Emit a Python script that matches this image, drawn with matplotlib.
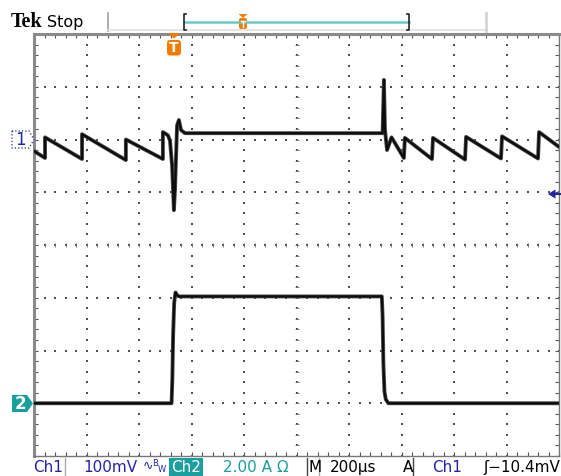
import numpy as np
import matplotlib.pyplot as plt
from matplotlib.patches import Polygon, FancyBboxPatch, Rectangle

# Ch1: 100 mV/div, ground 2 div above centre; Ch2: 2.00 A/div, ground 3 div below centre
# horizontal: 200 us/div, 10 divisions -> 0..2000 us
ch1_t = [0, 42, 42, 183, 183, 350, 350, 491, 491, 510, 518, 526, 533, 537, 545, 552, 560, 575,
         1328, 1333, 1337, 1345, 1362, 1409, 1413, 1516, 1520, 1642, 1646, 1779, 1783, 1920, 1924, 2000]
ch1_mv = [-22, -35, 4, -37, 10, -39, 0, -37, 14, 8, -2, -49, -134, -96, 27, 37, 18, 12,
          12, 113, 18, -20, 4, -35, 3, -37, 3, -38, 5, -36, 6, -36, 14, -14]

ch2_t = [0, 524, 527, 530, 534, 539, 545, 552, 1325, 1328, 1331, 1335, 1340, 1350, 2000]
ch2_a = [0, 0, 0.9, 2.6, 3.8, 4.2, 4.1, 4.05, 4.05, 3.3, 1.5, 0.45, 0.15, 0, 0]

ch1_scale, ch1_pos = 100.0, 2.0
ch2_scale, ch2_pos = 2.0, -3.0

BLUE = '#2323a8'
TEAL = '#1a9f9f'
ORANGE = '#f27b00'

fig = plt.figure(figsize=(5.61, 4.76), dpi=100)

ax = fig.add_axes([34 / 561, 20 / 476, 525 / 561, 422 / 476])
ax.set_xlim(0, 2000)
ax.set_ylim(-4, 4)
ax.set_xticks(np.arange(0, 2001, 200))
ax.set_xticks(np.arange(0, 2001, 40), minor=True)
ax.set_yticks(np.arange(-4, 5, 1))
ax.set_yticks(np.arange(-4, 4.01, 0.2), minor=True)
ax.tick_params(which='both', direction='in', top=True, right=True, length=3, width=0.8,
               color='#555555', labelbottom=False, labelleft=False)
for side in ['left', 'top']:
    ax.spines[side].set_linewidth(2.2)
    ax.spines[side].set_color('#8a8a8a')
for side in ['right', 'bottom']:
    ax.spines[side].set_linewidth(1.0)
    ax.spines[side].set_color('#777777')

# dotted graticule
gx, gy = [], []
for k in range(1, 10):
    ys = np.arange(-4, 4.01, 0.2)
    gx += [k * 200] * len(ys)
    gy += list(ys)
for k in range(-3, 4):
    xs = np.arange(0, 2001, 40)
    gx += list(xs)
    gy += [k] * len(xs)
ax.scatter(gx, gy, s=1.0, marker='s', color='#505050', linewidths=0, zorder=1)
# centre-line minor ticks
cx = np.arange(0, 2001, 40)
ax.scatter(cx, np.zeros_like(cx), s=5, marker='|', color='#707070', linewidths=0.6, zorder=1)
cy = np.arange(-4, 4.01, 0.2)
ax.scatter(np.full_like(cy, 1000), cy, s=5, marker='_', color='#707070', linewidths=0.6, zorder=1)

y1 = np.array(ch1_mv) / ch1_scale + ch1_pos
y2 = np.array(ch2_a) / ch2_scale + ch2_pos
for t, y in [(ch1_t, y1), (ch2_t, y2)]:
    ax.plot(t, y, color='#4a4a4a', lw=2.8, solid_joinstyle='round', zorder=3)
    ax.plot(t, y, color='#0d0d0d', lw=1.6, solid_joinstyle='round', zorder=4)

# overlay in pixel coordinates
ov = fig.add_axes([0, 0, 1, 1], zorder=5)
ov.set_xlim(0, 561)
ov.set_ylim(476, 0)
ov.axis('off')

# top status bar
ov.text(11, 27, 'Tek', fontfamily='Liberation Serif', fontweight='bold', fontsize=14.5, va='baseline')
ov.text(47, 27, 'Stop', fontfamily='DejaVu Sans', fontsize=11.5, va='baseline')
ov.plot([108, 108], [13, 31], color='#a0a0a0', lw=1.2)
ov.plot([108, 486], [30, 30], color='#e0e0e0', lw=1.2)
ov.plot([486, 486], [13, 31], color='#d5d5d5', lw=2)
ov.plot([185, 409], [22, 22], color='#6cc6c6', lw=1.8)
ov.plot([186.5, 184, 184, 186.5], [14, 14, 30, 30], color='#222222', lw=1.2)
ov.plot([407, 409.5, 409.5, 407], [14, 14, 30, 30], color='#222222', lw=1.2)
ov.add_patch(Polygon([(238.5, 14), (247.5, 14), (243, 18)], closed=True, fc=ORANGE, ec='none'))
ov.add_patch(FancyBboxPatch((239, 18), 8, 11, boxstyle='round,pad=0,rounding_size=2',
                            fc=ORANGE, ec='none'))
ov.plot([241, 245], [20.5, 20.5], color='white', lw=1)
ov.plot([243, 243], [20.5, 27], color='white', lw=1)

# trigger position marker
ov.add_patch(Polygon([(167.5, 33), (180.5, 33), (174, 38.5)], closed=True, fc=ORANGE, ec='none'))
ov.add_patch(FancyBboxPatch((167, 40), 14, 15.5, boxstyle='round,pad=0,rounding_size=3',
                            fc=ORANGE, ec='none'))
ov.text(174, 48, 'T', color='white', fontsize=10, fontweight='bold', ha='center', va='center')

# channel markers
ov.add_patch(Polygon([(12, 131), (29, 131), (34, 139.5), (29, 148), (12, 148)], closed=True,
                     fc='white', ec=BLUE, lw=0.9, ls=':'))
ov.text(20.5, 140, '1', color=BLUE, fontsize=12, ha='center', va='center')
ov.add_patch(Polygon([(12, 395), (27, 395), (33, 403.5), (27, 412), (12, 412)], closed=True,
                     fc=TEAL, ec='none'))
ov.text(20, 404, '2', color='white', fontsize=12, fontweight='bold', ha='center', va='center')

# trigger level arrow
ov.add_patch(Polygon([(548, 194), (555.5, 189.5), (555.5, 198.5)], closed=True, fc=BLUE, ec='none'))
ov.plot([554, 561], [194, 194], color=BLUE, lw=1.5)

# bottom status bar
fs = 11
ov.text(33, 472, 'Ch1', color=BLUE, fontsize=fs, va='baseline')
ov.plot([65.5, 65.5], [458, 476], color='#aaaaaa', lw=1)
ov.text(83, 472, '100mV', color=BLUE, fontsize=fs, va='baseline')
ov.text(143, 470, '\u223f', color=BLUE, fontsize=9, va='baseline')
ov.text(152.5, 466, 'B', color=BLUE, fontsize=6, va='baseline')
ov.text(157.5, 472, 'W', color=BLUE, fontsize=6, va='baseline')
ov.add_patch(Rectangle((169.5, 457.5), 34, 18.5, fc=TEAL, ec='none'))
ov.text(171.5, 472, 'Ch2', color='white', fontsize=fs, va='baseline')
ov.text(223, 472, '2.00 A \u03a9', color=TEAL, fontsize=fs, va='baseline')
ov.plot([307.5, 307.5], [458, 476], color='#444444', lw=1)
ov.plot([319, 319], [458, 476], color='#aaaaaa', lw=1)
ov.text(309, 472, 'M', color='black', fontsize=fs, va='baseline')
ov.text(330, 472, '200\u00b5s', color='black', fontsize=fs, va='baseline')
ov.text(403, 472, 'A', color='black', fontsize=fs, va='baseline')
ov.plot([413.5, 413.5], [458, 476], color='#444444', lw=1)
ov.text(432, 472, 'Ch1', color=BLUE, fontsize=fs, va='baseline')
ov.text(560, 472, '\u0283\u221210.4mV', color='black', fontsize=fs, va='baseline', ha='right')

fig.savefig('out.png', dpi=100)
